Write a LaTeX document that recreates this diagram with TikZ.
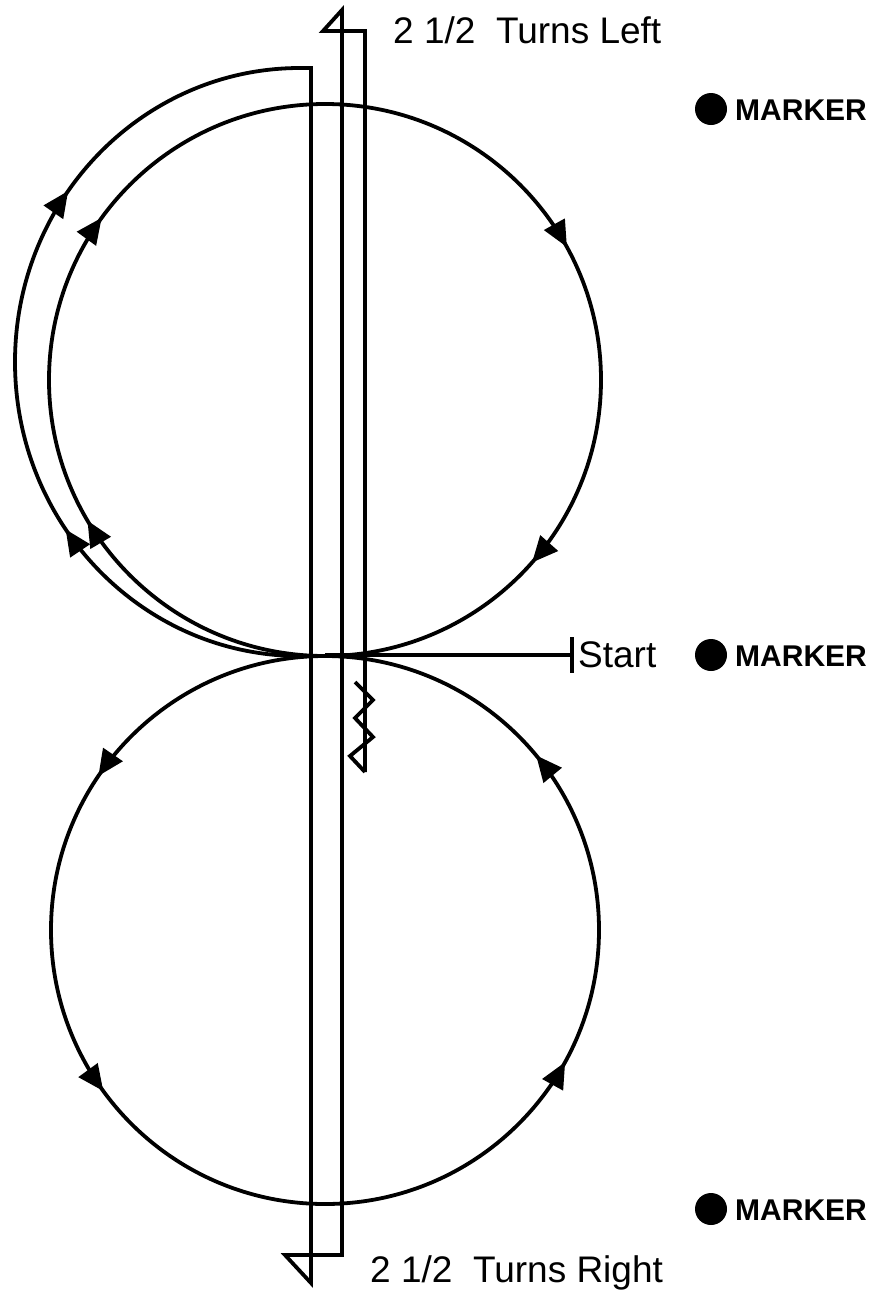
\documentclass[tikz,border=0pt]{standalone}
\usepackage{fontspec}
\setmainfont{Liberation Sans}
\usetikzlibrary{arrows.meta,decorations.markings}
\newcommand\arrtip{\arrow{Triangle[length=26pt,width=23pt]}}
\begin{document}
\begin{tikzpicture}[x=1pt,y=1pt,
  line/.style={line width=3.8pt, line join=miter},
  lbl/.style={anchor=base west, inner sep=0pt, font=\fontsize{37}{37}\selectfont},
  mk/.style={anchor=base west, inner sep=0pt, font=\fontsize{30}{30}\selectfont\bfseries},
  dot/.style={fill=black}]
\useasboundingbox (0,0) rectangle (870,-1291);
% centres
\coordinate (C1) at (325,-380);
\coordinate (C2) at (325,-930);
% upper circle (clockwise)
\draw[line, postaction=decorate, decoration={markings,
   mark=at position 0.10 with {\arrtip},
   mark=at position 0.42 with {\arrtip},
   mark=at position 0.615 with {\arrtip},
   mark=at position 0.915 with {\arrtip}}]
  (C1) ++(180:276) arc[start angle=180, end angle=-180, radius=276];
% lower circle (counter-clockwise)
\draw[line, postaction=decorate, decoration={markings,
   mark=at position 0.155 with {\arrtip},
   mark=at position 0.35 with {\arrtip},
   mark=at position 0.67 with {\arrtip},
   mark=at position 0.86 with {\arrtip}}]
  (C2) ++(90:274) arc[start angle=90, end angle=450, radius=274];
% outer arc
\coordinate (ebot) at (300,-656);
\coordinate (etop) at (300,-68);
\draw[line, postaction=decorate, decoration={markings,
   mark=at position 0.305 with {\arrtip},
   mark=at position 0.70 with {\arrtip}}]
  (ebot) arc[start angle=270, end angle=90, x radius=285, y radius=294];
% long line with hooks
\coordinate (a1) at (311,-68);
\coordinate (a2) at (311,-1283);
\coordinate (a3) at (285,-1255);
\coordinate (a4) at (342,-1255);
\coordinate (a5) at (342,-10);
\coordinate (a6) at (323,-31);
\coordinate (a7) at (365,-31);
\coordinate (a8) at (365,-772);
\draw[line] (etop) -- (a1) -- (a2) -- (a3) -- (a4) -- (a5) -- (a6) -- (a7) -- (a8);
% zigzag
\coordinate (z1) at (355,-682);
\coordinate (z2) at (373,-700);
\coordinate (z3) at (355,-718);
\coordinate (z4) at (373,-737);
\coordinate (z5) at (350,-756);
\draw[line] (z1) -- (z2) -- (z3) -- (z4) -- (z5) -- (a8);
% start line
\coordinate (s0) at (325,-655);
\coordinate (s1) at (572,-655);
\draw[line] (s0) -- (s1);
\draw[line] (572,-637) -- (572,-673);
\node[lbl] (start) at (578,-667) {Start};
% labels
\node[lbl] (tl) at (393,-43) {2 1/2\ \ Turns Left};
\node[lbl] (tr) at (370,-1282) {2 1/2\ \ Turns Right};
% markers
\fill[dot] (711,-109) circle (16);
\node[mk] (m1) at (735,-120) {MARKER};
\fill[dot] (711,-655) circle (16);
\node[mk] (m2) at (735,-666) {MARKER};
\fill[dot] (711,-1209) circle (16);
\node[mk] (m3) at (735,-1220) {MARKER};
\end{tikzpicture}
\end{document}
